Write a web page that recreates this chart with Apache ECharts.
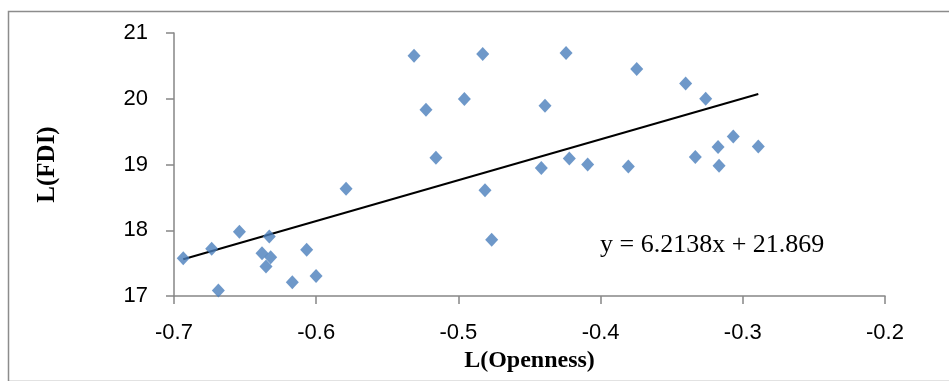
<!DOCTYPE html>
<html>
<head>
<meta charset="utf-8">
<script src="https://cdn.jsdelivr.net/npm/echarts@6/dist/echarts.min.js"></script>
<style>html,body{margin:0;padding:0;background:#fff}#c{width:949px;height:381px}</style>
</head>
<body>
<div id="c"></div>
<script>
// Data
var openness = [-0.6935, -0.6735, -0.6688, -0.654, -0.6381, -0.633, -0.632, -0.6353, -0.6168, -0.6067, -0.6001, -0.579, -0.5312, -0.5228, -0.5158, -0.4958, -0.4829, -0.4813, -0.4766, -0.4417, -0.4391, -0.4243, -0.422, -0.4091, -0.3805, -0.3746, -0.3402, -0.3334, -0.3261, -0.3174, -0.3167, -0.3067, -0.2891];
var fdi = [17.575, 17.717, 17.082, 17.976, 17.651, 17.904, 17.591, 17.447, 17.21, 17.702, 17.306, 18.63, 20.655, 19.833, 19.102, 19.995, 20.68, 18.61, 17.854, 18.945, 19.893, 20.696, 19.091, 19.0, 18.97, 20.452, 20.233, 19.113, 20.0, 19.265, 18.98, 19.426, 19.274];
var trendSlope = 6.2138;
var trendIntercept = 21.869;
var equationText = 'y = 6.2138x + 21.869';
var xTitle = 'L(Openness)';
var yTitle = 'L(FDI)';

var points = openness.map(function (x, i) { return [x, fdi[i]]; });
var xMin = Math.min.apply(null, openness), xMax = Math.max.apply(null, openness);
var trend = [[xMin, trendSlope * xMin + trendIntercept], [xMax, trendSlope * xMax + trendIntercept]];

var chart = echarts.init(document.getElementById('c'));
var axisCol = '#868686';
chart.setOption({
  animation: false,
  backgroundColor: '#fff',
  grid: { left: 174, right: 64, top: 33, bottom: 85, containLabel: false },
  xAxis: {
    type: 'value', min: -0.7, max: -0.2, interval: 0.1,
    name: xTitle, nameLocation: 'middle', nameGap: 53,
    nameTextStyle: { fontFamily: 'Liberation Serif', fontWeight: 'bold', fontSize: 24, color: '#000' },
    axisLine: { show: true, onZero: false, lineStyle: { color: axisCol, width: 1.5 } },
    axisTick: { show: true, length: 8, lineStyle: { color: axisCol, width: 1.5 } },
    axisLabel: { margin: 26, fontFamily: 'Liberation Sans', fontSize: 22, color: '#000',
      formatter: function (v) { return v.toFixed(1); } },
    splitLine: { show: false }
  },
  yAxis: {
    type: 'value', min: 17, max: 21, interval: 1,
    name: yTitle, nameLocation: 'middle', nameGap: 114, nameRotate: 90,
    nameTextStyle: { fontFamily: 'Liberation Serif', fontWeight: 'bold', fontSize: 25, color: '#000' },
    axisLine: { show: true, onZero: false, lineStyle: { color: axisCol, width: 1.5 } },
    axisTick: { show: true, length: 8, lineStyle: { color: axisCol, width: 1.5 } },
    axisLabel: { margin: 26, fontFamily: 'Liberation Sans', fontSize: 22, color: '#000' },
    splitLine: { show: false }
  },
  series: [
    {
      type: 'scatter', data: points, symbol: 'diamond', symbolSize: [13, 14],
      itemStyle: { color: '#4A7EBB' }, z: 3
    },
    {
      type: 'line', data: trend, symbol: 'none', lineStyle: { color: '#000', width: 2 }, z: 2
    }
  ],
  graphic: [
    { type: 'rect', left: 6, top: 9, shape: { width: 960, height: 370 }, silent: true,
      style: { fill: 'none', stroke: '#8c8c8c', lineWidth: 1.5 }, z: -1 },
    { type: 'text', left: 600, top: 232, style: { text: equationText, font: '26px "Liberation Serif"', fill: '#000' } }
  ]
});
</script>
</body>
</html>
